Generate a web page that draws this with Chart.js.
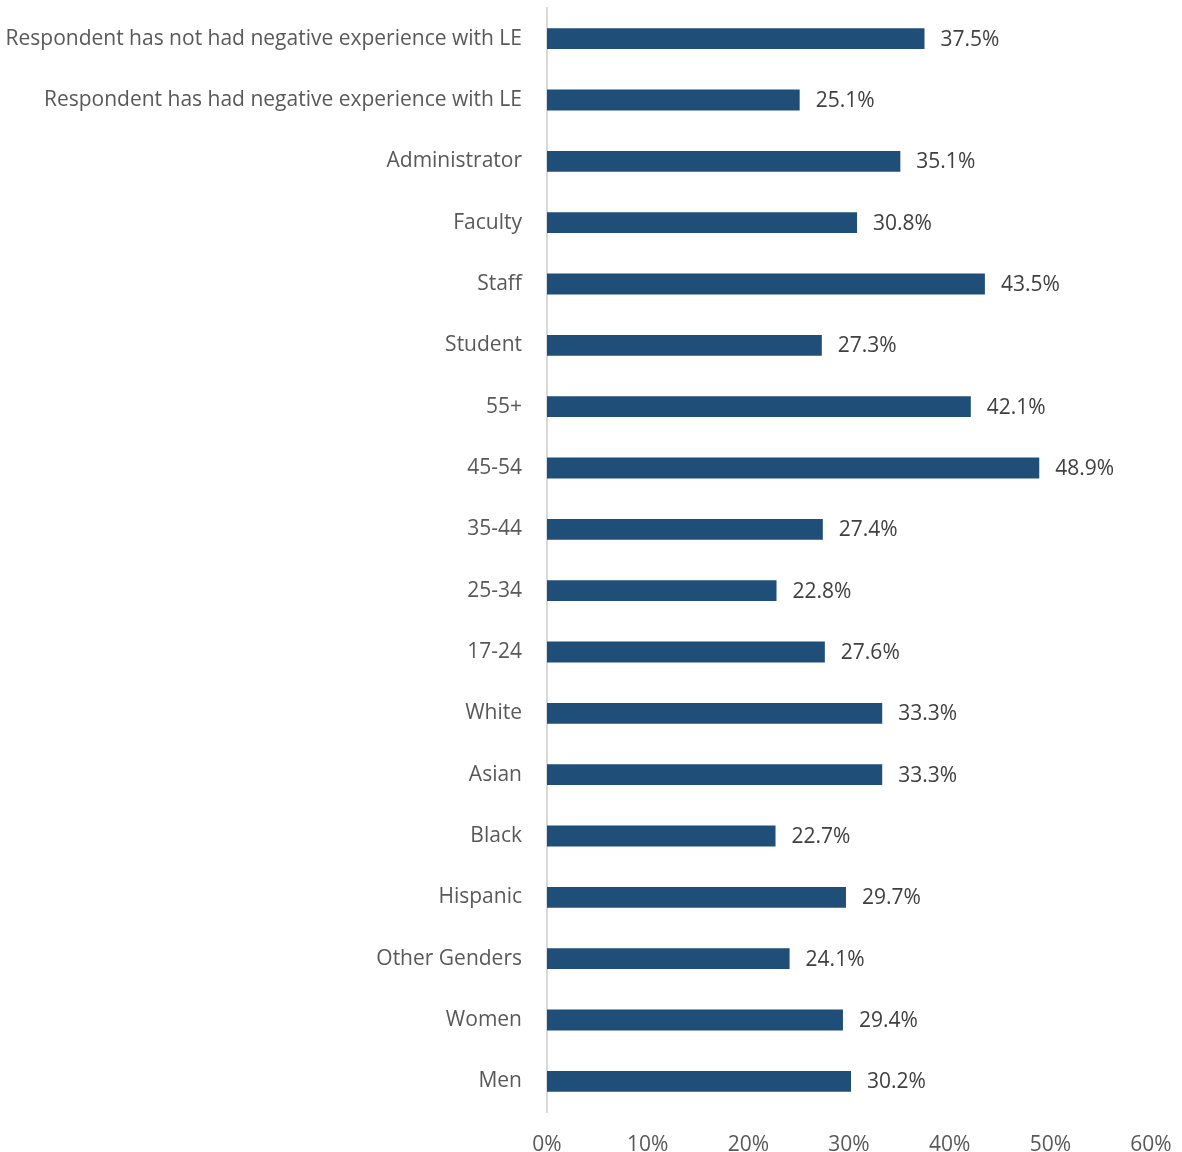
<!DOCTYPE html>
<html>
<head>
<meta charset="utf-8">
<script src="https://cdn.jsdelivr.net/npm/chart.js@4/dist/chart.umd.min.js"></script>
<style>
  html, body { margin: 0; padding: 0; background: #fff; }
  #wrap { width: 1182px; height: 1152px; }
</style>
</head>
<body>
<div id="wrap"><canvas id="chart"></canvas></div>
<script>
const categories = [
  "Respondent has not had negative experience with LE",
  "Respondent has had negative experience with LE",
  "Administrator", "Faculty", "Staff", "Student",
  "55+", "45-54", "35-44", "25-34", "17-24",
  "White", "Asian", "Black", "Hispanic",
  "Other Genders", "Women", "Men"
];
const values = [37.5, 25.1, 35.1, 30.8, 43.5, 27.3, 42.1, 48.9, 27.4, 22.8, 27.6, 33.3, 33.3, 22.7, 29.7, 24.1, 29.4, 30.2];
const xTicks = [0, 10, 20, 30, 40, 50, 60];

const BAR_BLUE = "#1f4e79";
const FONT = "'Open Sans', 'Noto Sans', sans-serif";

// draws the value text just past the end of each bar
const valueLabels = {
  id: "valueLabels",
  afterDatasetsDraw(chart) {
    const { ctx } = chart;
    const meta = chart.getDatasetMeta(0);
    ctx.save();
    ctx.font = `21px ${FONT}`;
    ctx.fillStyle = "#404040";
    ctx.textAlign = "left";
    ctx.textBaseline = "middle";
    meta.data.forEach((bar, i) => {
      ctx.fillText(values[i].toFixed(1) + "%", bar.x + 16, bar.y + 1);
    });
    ctx.restore();
  }
};

new Chart(document.getElementById("chart"), {
  type: "bar",
  data: {
    labels: categories,
    datasets: [{
      data: values,
      backgroundColor: BAR_BLUE,
      categoryPercentage: 1,
      barPercentage: 0.34
    }]
  },
  options: {
    indexAxis: "y",
    responsive: true,
    maintainAspectRatio: false,
    animation: false,
    layout: { padding: { top: 8, right: 31, left: 0, bottom: 0 } },
    plugins: { legend: { display: false }, tooltip: { enabled: false } },
    scales: {
      x: {
        min: 0,
        max: 60,
        afterBuildTicks: (s) => { s.ticks = xTicks.map((v) => ({ value: v })); },
        afterFit: (s) => { s.height = 40; s.paddingLeft = 0; s.paddingRight = 0; },
        grid: { display: false },
        border: { display: false },
        ticks: {
          padding: 12,
          color: "#595959",
          font: { family: FONT, size: 21 },
          callback: (v) => v + "%"
        }
      },
      y: {
        afterFit: (s) => { s.width = 547; s.paddingTop = 0; s.paddingBottom = 0; },
        grid: { display: false },
        border: { display: true, color: "#d9d9d9", width: 2 },
        ticks: {
          padding: 17,
          color: "#595959",
          font: { family: FONT, size: 21 }
        }
      }
    }
  },
  plugins: [valueLabels]
});
</script>
</body>
</html>
